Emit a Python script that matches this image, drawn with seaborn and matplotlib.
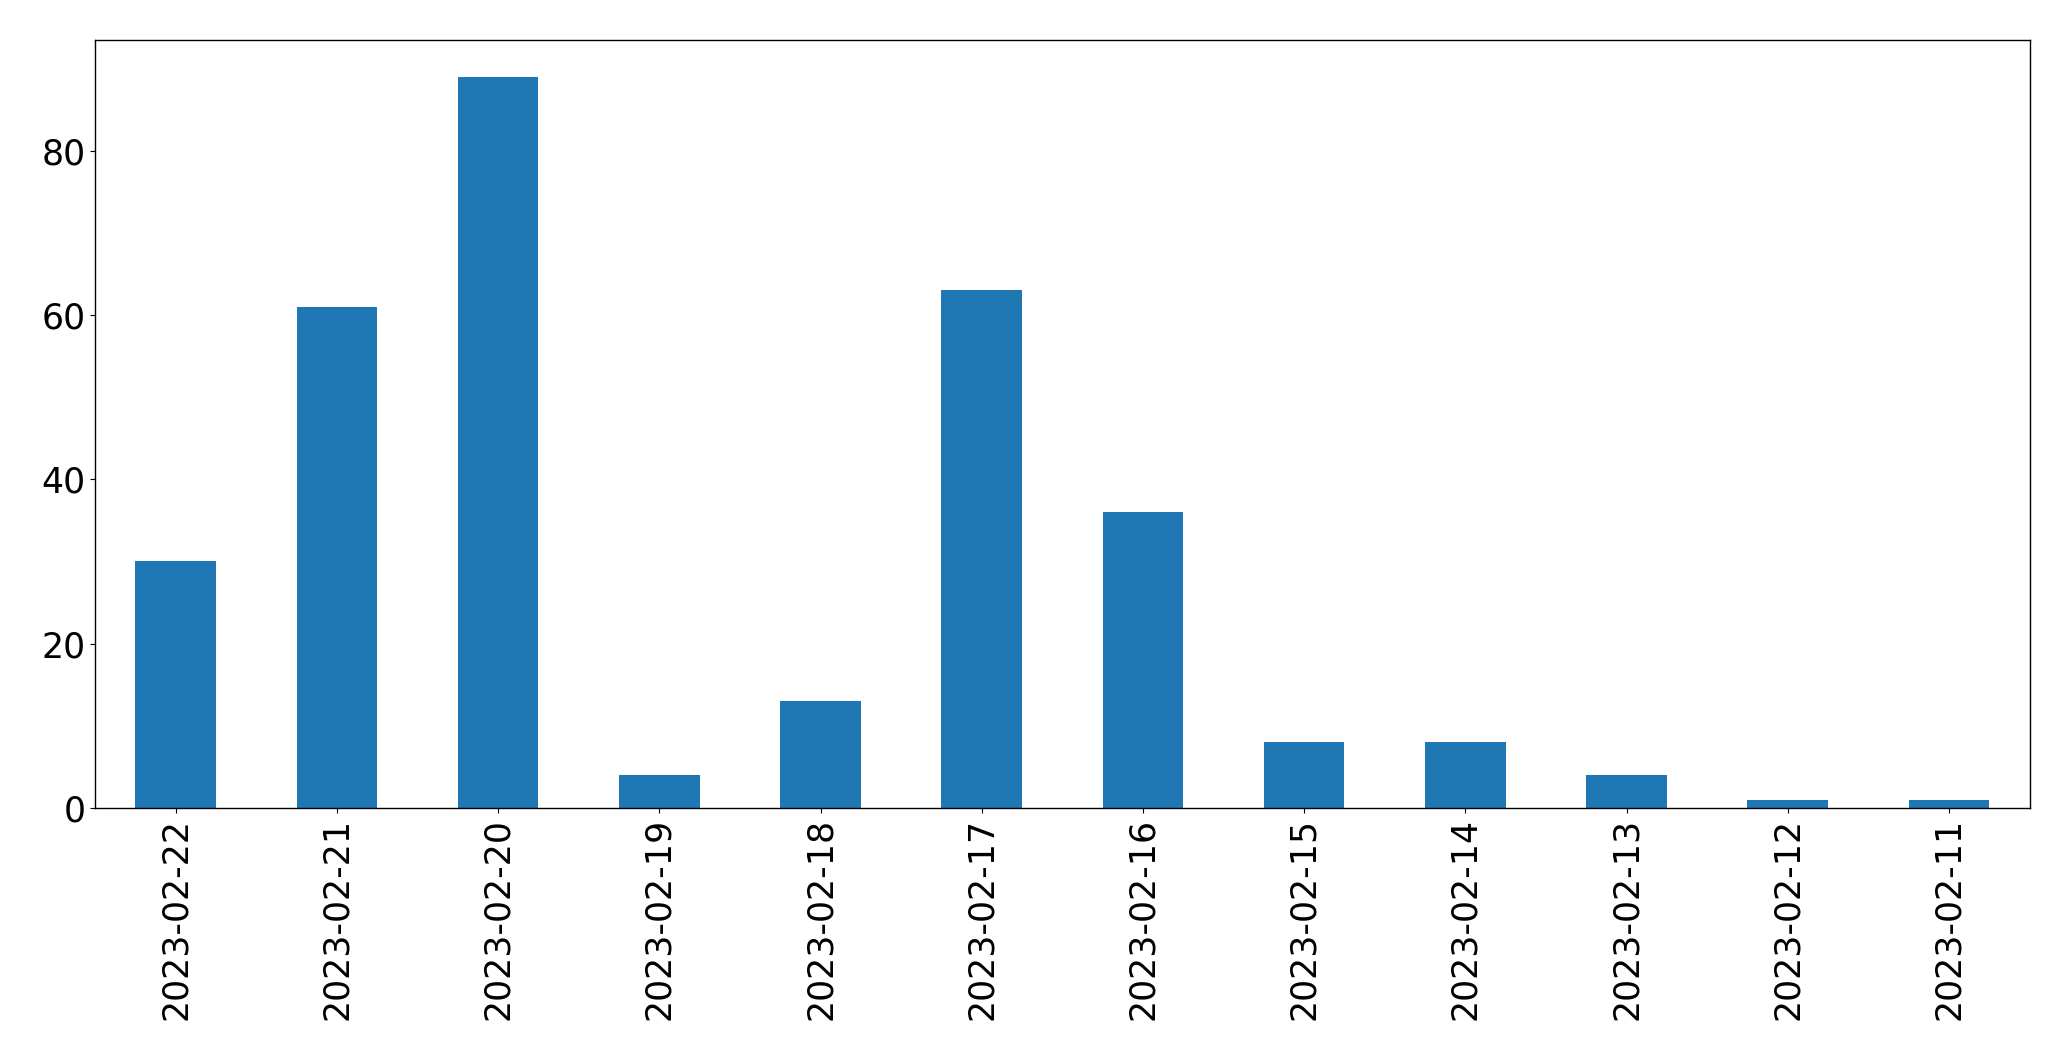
import matplotlib
matplotlib.use("Agg")
import matplotlib.pyplot as plt
import seaborn as sns
import pandas as pd

# ── Data ──────────────────────────────────────────────────────────────────────
dates = ["2023-02-22", "2023-02-21", "2023-02-20", "2023-02-19",
         "2023-02-18", "2023-02-17", "2023-02-16", "2023-02-15",
         "2023-02-14", "2023-02-13", "2023-02-12", "2023-02-11"]
counts = [30, 61, 89, 4, 13, 63, 36, 8, 8, 4, 1, 1]

df = pd.DataFrame({"date": dates, "count": counts})

# ── Plot ──────────────────────────────────────────────────────────────────────
fig, ax = plt.subplots(figsize=(20.71, 10.61), dpi=100)
sns.barplot(data=df, x="date", y="count", order=dates,
            color="#1f77b4", saturation=1, width=0.5, ax=ax)

ax.set_xlabel("")
ax.set_ylabel("")
ax.set_yticks([0, 20, 40, 60, 80])
ax.tick_params(axis="x", labelrotation=90, labelsize=25)
ax.tick_params(axis="y", labelsize=25)
for s in ax.spines.values():
    s.set_linewidth(1.0)

fig.subplots_adjust(left=0.0459, right=0.980, top=0.9623, bottom=0.2385)
fig.savefig("out.png", dpi=100)
